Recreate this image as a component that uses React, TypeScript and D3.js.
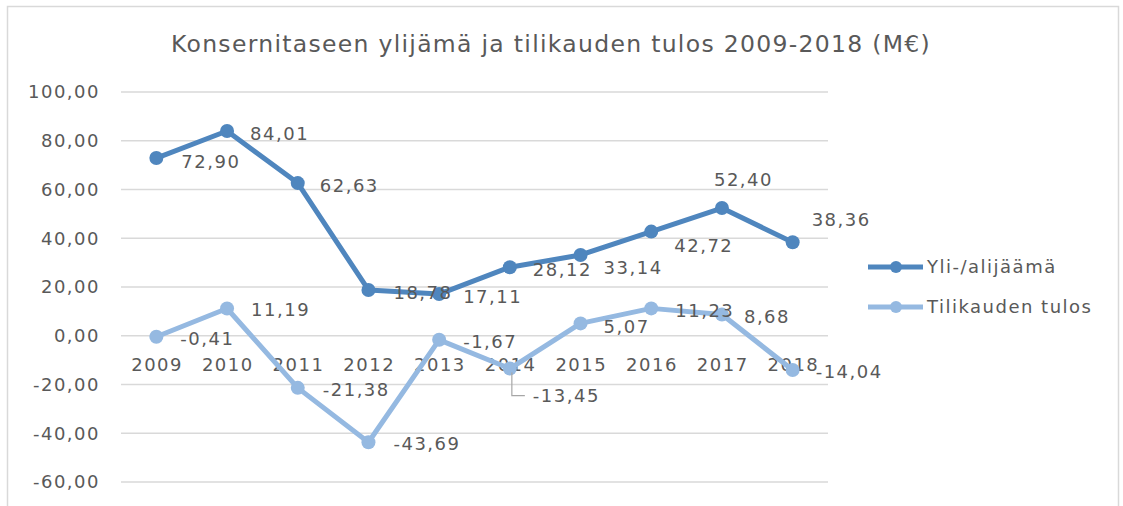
import React, { useEffect } from "react";
import * as d3 from "d3";

const years = ["2009", "2010", "2011", "2012", "2013", "2014", "2015", "2016", "2017", "2018"];
const yliAlijaama = [72.9, 84.01, 62.63, 18.78, 17.11, 28.12, 33.14, 42.72, 52.4, 38.36];
const tilikaudenTulos = [-0.41, 11.19, -21.38, -43.69, -1.67, -13.45, 5.07, 11.23, 8.68, -14.04];
const yTicks = [100, 80, 60, 40, 20, 0, -20, -40, -60];
const seriesNames = ["Yli-/alijäämä", "Tilikauden tulos"];
const title = "Konsernitaseen ylijämä ja tilikauden tulos 2009-2018 (M€)";

// label placement (layout only): [dx, dy] relative to marker
const darkLabelOffsets: [number, number][] = [
  [25, 3], [23, 3], [22, 2], [25, 3], [24, 2], [23, 2], [23, 13], [23, 14], [-8, -29], [19, -23],
];
const lightLabelOffsets: [number, number][] = [
  [24, 2], [24, 1], [25, 2], [25, 1], [24, 2], [23, 27], [23, 3], [24, 2], [22, 2], [23, 2],
];

const W = 1123;
const H = 506;
const M = { left: 121, right: 828, top: 92, bottom: 482 };
const DARK = "#4f86be";
const LIGHT = "#95b9e1";
const TEXT = "#595959";
const GRID = "#d9d9d9";
const FONT = "'DejaVu Sans', Verdana, sans-serif";
const LS = 1.5;

const fmt = (v: number) => d3.format(".2f")(v).replace(".", ",").replace("−", "-");

export default function App() {
  useEffect(() => {
    document.body.style.margin = "0";
  }, []);

  const x = d3.scaleBand<string>().domain(years).range([M.left, M.right]);
  const y = d3.scaleLinear().domain([-60, 100]).range([M.bottom, M.top]);
  const cx = (i: number) => (x(years[i]) as number) + x.bandwidth() / 2;

  const line = d3
    .line<number>()
    .x((_, i) => cx(i))
    .y((d) => y(d));

  const series = [
    { name: seriesNames[0], values: yliAlijaama, color: DARK, offsets: darkLabelOffsets },
    { name: seriesNames[1], values: tilikaudenTulos, color: LIGHT, offsets: lightLabelOffsets },
  ];

  const textStyle = { fontFamily: FONT, fill: TEXT, letterSpacing: `${LS}px` } as React.CSSProperties;

  return (
    <svg width={W} height={H} style={{ display: "block" }}>
      <rect x={0} y={0} width={W} height={H} fill="#fff" />
      <rect x={7.5} y={6.5} width={1111} height={510} fill="none" stroke={GRID} strokeWidth={1.5} />
      <text x={551} y={52} textAnchor="middle" fontSize={23.5} style={{ ...textStyle, letterSpacing: "1.3px" }}>
        {title}
      </text>
      {yTicks.map((t) => (
        <g key={t}>
          <line x1={M.left} x2={M.right} y1={y(t)} y2={y(t)} stroke={GRID} strokeWidth={1.5} />
          <text x={100} y={y(t)} dy="0.36em" textAnchor="end" fontSize={18} style={textStyle}>
            {fmt(t)}
          </text>
        </g>
      ))}
      {years.map((yr, i) => (
        <text key={yr} x={cx(i) + LS / 2} y={y(0) + 29} dy="0.36em" textAnchor="middle" fontSize={18} style={textStyle}>
          {yr}
        </text>
      ))}
      {series.map((s) => (
        <g key={s.name}>
          <path d={line(s.values) || ""} fill="none" stroke={s.color} strokeWidth={5} strokeLinejoin="round" />
          {s.values.map((v, i) => (
            <circle key={i} cx={cx(i)} cy={y(v)} r={7} fill={s.color} />
          ))}
        </g>
      ))}
      {/* leader line for 2014 Tilikauden tulos */}
      <polyline
        points={`${cx(5) + 2},${y(tilikaudenTulos[5]) + 4} ${cx(5) + 2},${y(tilikaudenTulos[5]) + 27} ${cx(5) + 15},${y(tilikaudenTulos[5]) + 27}`}
        fill="none"
        stroke="#a6a6a6"
        strokeWidth={1.2}
      />
      {series.map((s) => (
        <g key={s.name + "-labels"}>
          {s.values.map((v, i) => (
            <text
              key={i}
              x={cx(i) + s.offsets[i][0]}
              y={y(v) + s.offsets[i][1]}
              dy="0.36em"
              fontSize={18}
              style={textStyle}
            >
              {fmt(v)}
            </text>
          ))}
        </g>
      ))}
      {series.map((s, k) => {
        const ly = 267 + k * 40;
        return (
          <g key={s.name + "-legend"}>
            <line x1={868} x2={923} y1={ly} y2={ly} stroke={s.color} strokeWidth={5} />
            <circle cx={896} cy={ly} r={6} fill={s.color} />
            <text x={927} y={ly} dy="0.36em" fontSize={18} style={textStyle}>
              {s.name}
            </text>
          </g>
        );
      })}
    </svg>
  );
}
